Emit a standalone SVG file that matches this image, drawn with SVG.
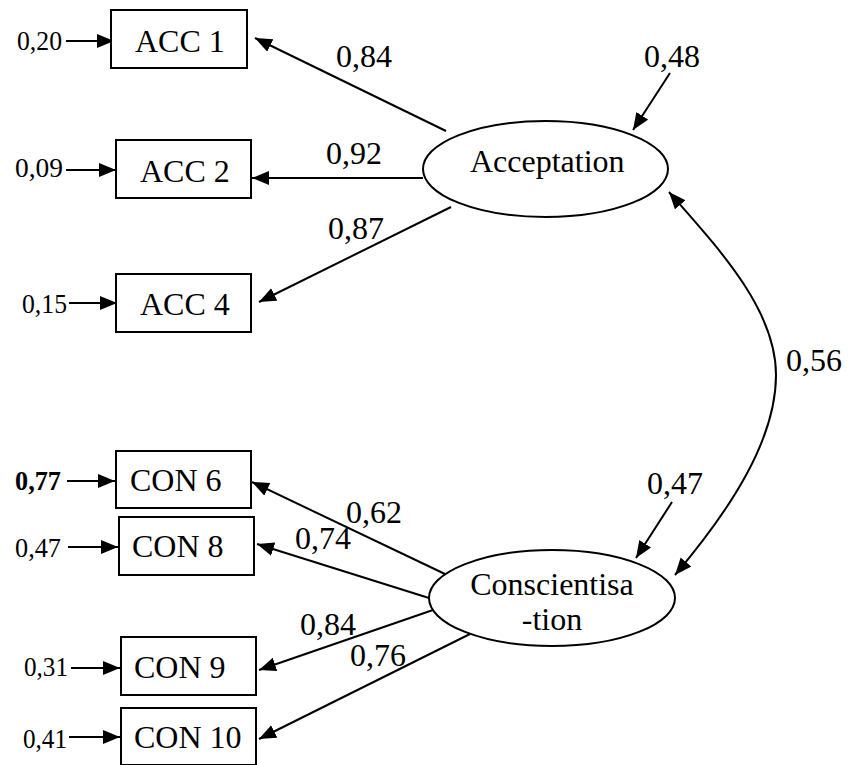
<svg xmlns="http://www.w3.org/2000/svg" width="851" height="765" viewBox="0 0 851 765">
<style>
.box{fill:#fff;stroke:#000;stroke-width:2}
.ell{fill:#fff;stroke:#000;stroke-width:2}
text{fill:#000;font-family:"Liberation Serif","DejaVu Serif",serif}
.ln{fill:none;stroke:#000;stroke-width:2;marker-end:url(#ah)}
.cv{fill:none;stroke:#000;stroke-width:2;marker-end:url(#ah);marker-start:url(#ah)}
</style>
<defs>
<marker id="ah" markerUnits="userSpaceOnUse" markerWidth="20" markerHeight="16" refX="17" refY="7" orient="auto-start-reverse">
<path d="M0,0 L17,7 L0,14 z" fill="#000"/>
</marker>
</defs>
<rect width="851" height="765" fill="#fff"/>
<g id="connectors">
<line class="ln" x1="446" y1="131" x2="255" y2="38"/>
<line class="ln" x1="423" y1="178" x2="252" y2="178"/>
<line class="ln" x1="451" y1="207" x2="259" y2="302"/>
<line class="ln" x1="670" y1="73" x2="633" y2="130"/>
<line class="ln" x1="66" y1="41" x2="114" y2="41"/>
<line class="ln" x1="66" y1="170" x2="116" y2="170"/>
<line class="ln" x1="69" y1="303" x2="117" y2="303"/>
<line class="ln" x1="67" y1="481" x2="115" y2="481"/>
<line class="ln" x1="68" y1="547" x2="118" y2="547"/>
<line class="ln" x1="71" y1="668" x2="120" y2="668"/>
<line class="ln" x1="69" y1="737" x2="120" y2="737"/>
<line class="ln" x1="445" y1="574" x2="252" y2="482"/>
<line class="ln" x1="429" y1="598" x2="257" y2="544"/>
<line class="ln" x1="433" y1="610" x2="259" y2="670"/>
<line class="ln" x1="470" y1="634" x2="259" y2="739"/>
<line class="ln" x1="672" y1="502" x2="636" y2="558"/>
<path class="cv" d="M669,192 C720,250 776,310 776,375 C776,440 730,510 675,575"/>
<g font-size="32">
<text x="336" y="67">0,84</text>
<text x="326" y="164">0,92</text>
<text x="328" y="239">0,87</text>
<text x="644" y="67">0,48</text>
<text x="786" y="371">0,56</text>
<text x="647" y="494">0,47</text>
<text x="346" y="523">0,62</text>
<text x="295" y="549">0,74</text>
<text x="300" y="635">0,84</text>
<text x="350" y="666">0,76</text>
</g>
<g font-size="28">
<text x="17" y="50" textLength="45" lengthAdjust="spacingAndGlyphs">0,20</text>
<text x="15" y="177" textLength="48" lengthAdjust="spacingAndGlyphs">0,09</text>
<text x="22" y="313" textLength="45" lengthAdjust="spacingAndGlyphs">0,15</text>
<text x="15" y="490" font-weight="bold" textLength="46" lengthAdjust="spacingAndGlyphs">0,77</text>
<text x="15" y="557" textLength="46" lengthAdjust="spacingAndGlyphs">0,47</text>
<text x="24" y="676" textLength="44" lengthAdjust="spacingAndGlyphs">0,31</text>
<text x="23" y="748" textLength="44" lengthAdjust="spacingAndGlyphs">0,41</text>
</g>
</g>
<g font-size="32">
<g id="acc1"><rect class="box" x="111" y="10" width="136" height="58"/><text x="135" y="52">ACC 1</text></g>
<g id="acc2"><rect class="box" x="116" y="140" width="135" height="58"/><text x="140" y="182">ACC 2</text></g>
<g id="acc4"><rect class="box" x="116" y="274" width="135" height="58"/><text x="140" y="315">ACC 4</text></g>
<g id="con6"><rect class="box" x="116" y="451" width="135" height="57"/><text x="130" y="491">CON 6</text></g>
<g id="con8"><rect class="box" x="119" y="517" width="135" height="58"/><text x="132" y="557">CON 8</text></g>
<g id="con9"><rect class="box" x="121" y="637" width="135" height="58"/><text x="134" y="678">CON 9</text></g>
<g id="con10"><rect class="box" x="121" y="708" width="135" height="57"/><text x="134" y="748">CON 10</text></g>
<g id="acceptation"><ellipse class="ell" cx="545.5" cy="169" rx="122.5" ry="48"/><text x="470" y="172">Acceptation</text></g>
<g id="conscientisation"><ellipse class="ell" cx="552" cy="598" rx="123" ry="48"/><text x="552" y="595" text-anchor="middle">Conscientisa</text><text x="552" y="630" text-anchor="middle">-tion</text></g>
</g>
</svg>
